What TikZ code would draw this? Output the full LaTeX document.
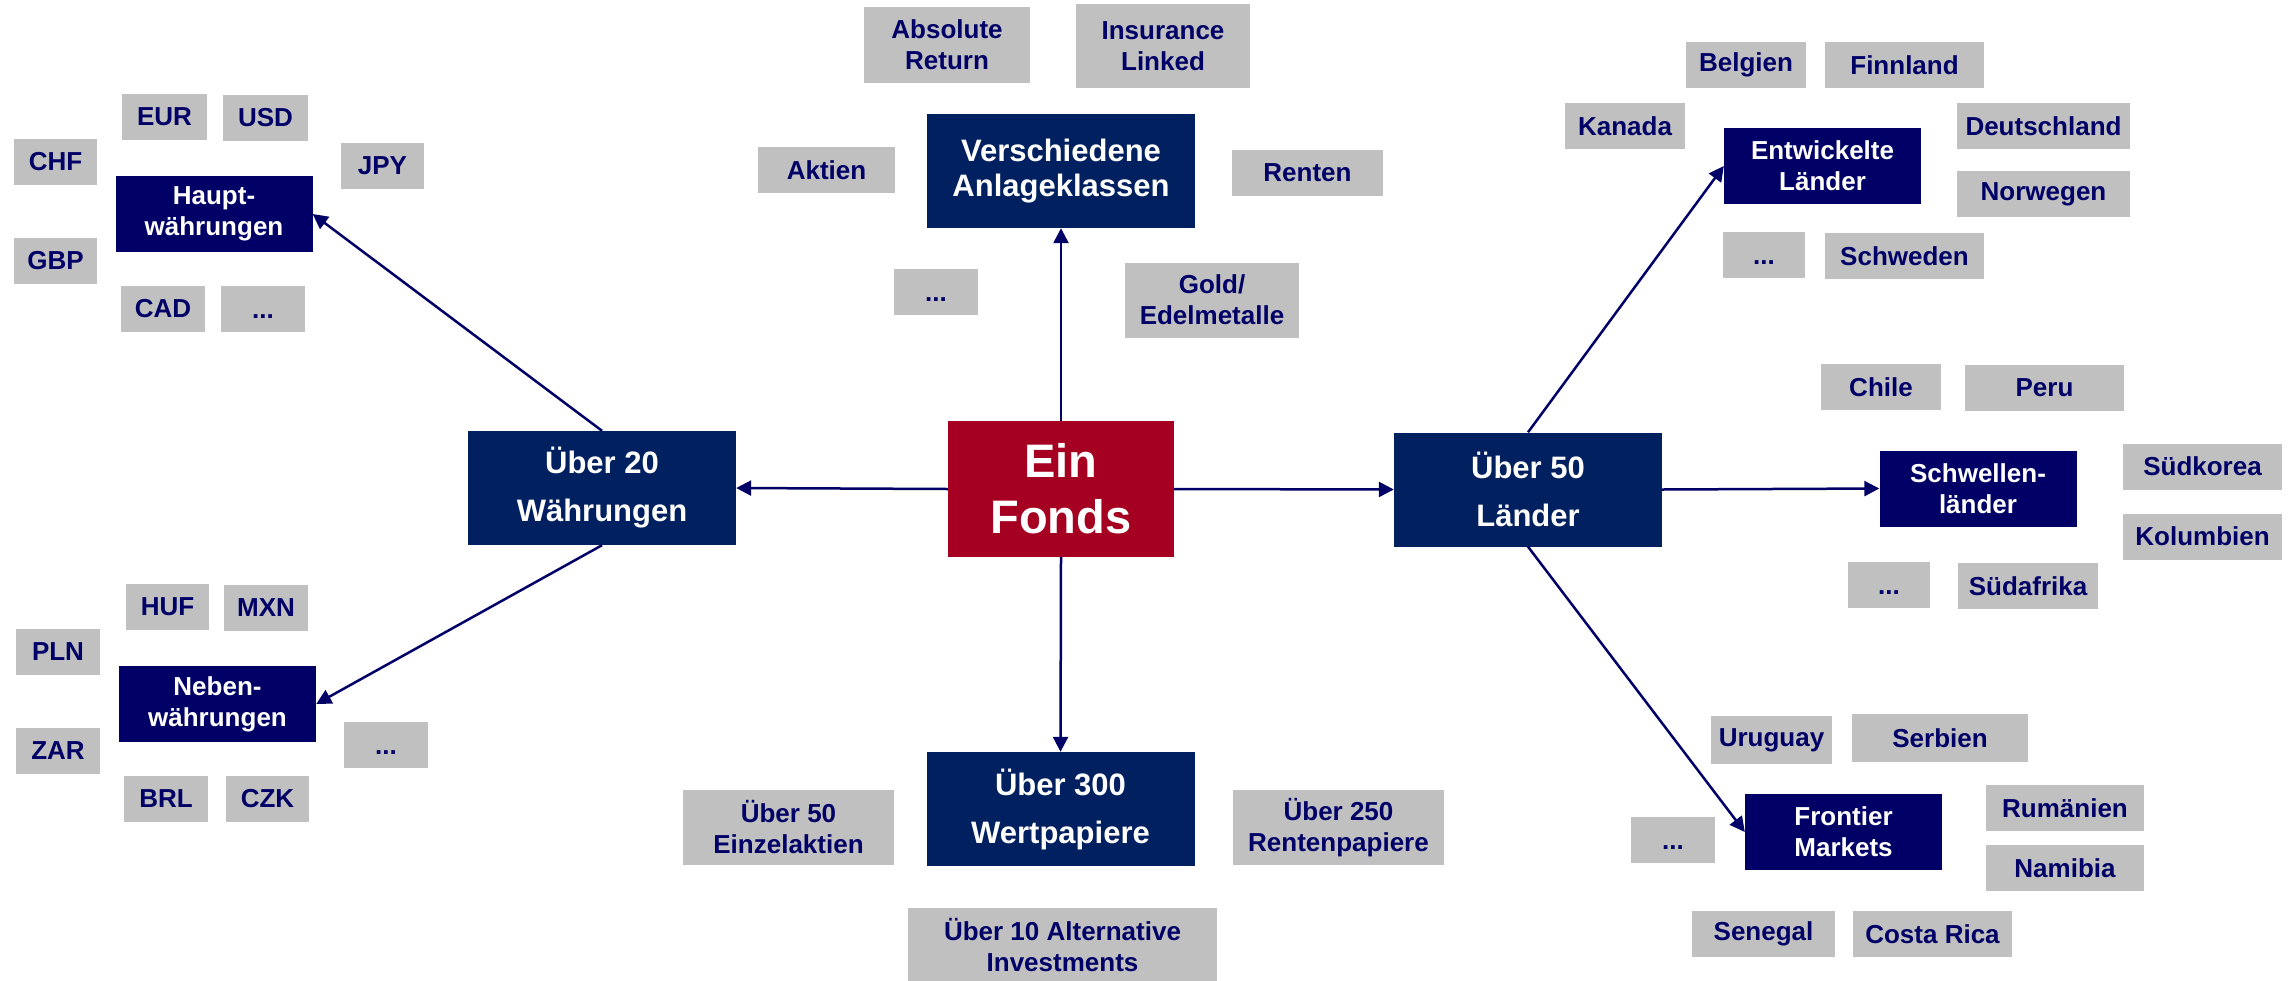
\documentclass[tikz,border=0pt]{standalone}
\usepackage{fontspec}
\setmainfont{Liberation Sans}
\usepackage{xcolor}
\usetikzlibrary{arrows.meta}
\definecolor{dunkelblau}{RGB}{0,32,96}
\definecolor{marine}{RGB}{0,0,102}
\definecolor{fondsrot}{RGB}{165,0,33}
\definecolor{hellgrau}{RGB}{192,192,192}

\begin{document}
\begin{tikzpicture}
  [x=1pt,y=-1pt,
   every node/.style={inner sep=0pt,align=center,font=\bfseries\fontsize{26}{31}\selectfont},
   fonds/.style={fill=fondsrot,text=white,minimum width=226pt,minimum height=136pt,font=\bfseries\fontsize{47}{56}\selectfont},
   gross/.style={fill=dunkelblau,text=white,minimum width=268pt,minimum height=114pt,font=\bfseries\fontsize{31}{48}\selectfont},
   klein/.style={fill=marine,text=white,minimum width=197pt,minimum height=76pt},
   grau/.style={fill=hellgrau,text=marine,minimum height=46pt,minimum width=#1},
   grau/.default=84pt,
   punkte/.style={grau=#1,text height=18.6pt,text depth=0pt},
   punkte/.default=84pt,
   pfeil/.style={draw=marine,line width=2.5pt,-{Triangle[length=15pt,width=15pt]}}]
  \useasboundingbox (0,0) rectangle (2290,980);

  \node[fonds] (fonds) at (1061,489) {Ein\\Fonds};
  \node[gross,font=\bfseries\fontsize{31}{35}\selectfont] (anlage) at (1061,171) {Verschiedene\\Anlageklassen};
  \node[gross] (papiere) at (1060.5,809) {Über 300\\Wertpapiere};
  \node[gross] (waehr) at (602,488) {Über 20\\Währungen};
  \node[gross] (laender) at (1528,489.5) {Über 50\\Länder};

  \node[klein] (haupt) at (214,214) {Haupt-\\währungen};
  \node[klein] (neben) at (217.5,704) {Neben-\\währungen};
  \node[klein] (entw) at (1822.5,166) {Entwickelte\\Länder};
  \node[klein] (schwellen) at (1978,488.5) {Schwellen-\\länder};
  \node[klein] (frontier) at (1843.5,832) {Frontier\\Markets};

  \node[grau=85pt] (eur) at (164.5,117) {EUR};
  \node[grau=85pt] (usd) at (265.5,118) {USD};
  \node[grau=83pt] (chf) at (55.5,162) {CHF};
  \node[grau=83pt] (jpy) at (382.5,166) {JPY};
  \node[grau=83pt] (gbp) at (55.5,261) {GBP};
  \node[grau] (cad) at (163,309) {CAD};
  \node[punkte] (hpunkte) at (263,309) {...};
  \node[grau=83pt] (huf) at (167.5,607) {HUF};
  \node[grau] (mxn) at (266,608) {MXN};
  \node[grau] (pln) at (58,652) {PLN};
  \node[grau] (zar) at (58,751) {ZAR};
  \node[punkte] (npunkte) at (386,745) {...};
  \node[grau] (brl) at (166,799) {BRL};
  \node[grau=83pt] (czk) at (267.5,799) {CZK};

  \node[grau=166pt,minimum height=76pt] (absolut) at (947,45) {Absolute\\Return};
  \node[grau=174pt,minimum height=84pt] (insurance) at (1163,46) {Insurance\\Linked};
  \node[grau=137pt] (aktien) at (826.5,170) {Aktien};
  \node[grau=151pt] (renten) at (1307.5,173) {Renten};
  \node[punkte] (apunkte) at (936,292) {...};
  \node[grau=174pt,minimum height=75pt] (gold) at (1212,300) {Gold/\\Edelmetalle};
  \node[grau=211pt,minimum height=75pt] (einzel) at (788.5,827.5) {Über 50\\Einzelaktien};
  \node[grau=211pt,minimum height=75pt] (rentenp) at (1338.5,827.5) {Über 250\\Rentenpapiere};
  \node[grau=309pt,minimum height=75pt] (altern) at (1062.5,945.5) {Über 10 Alternative\\Investments};

  \node[grau=120pt] (belgien) at (1746,65) {Belgien};
  \node[grau=159pt] (finnland) at (1904.5,65) {Finnland};
  \node[grau=120pt] (kanada) at (1625,126) {Kanada};
  \node[grau=173pt] (deutschland) at (2043.5,126) {Deutschland};
  \node[grau=173pt] (norwegen) at (2043.5,194) {Norwegen};
  \node[punkte=82pt] (epunkte) at (1764,255) {...};
  \node[grau=159pt] (schweden) at (1904.5,256) {Schweden};
  \node[grau=120pt] (chile) at (1881,387) {Chile};
  \node[grau=159pt] (peru) at (2044.5,388) {Peru};
  \node[grau=159pt] (suedkorea) at (2202.5,466.5) {Südkorea};
  \node[grau=159pt] (kolumbien) at (2202.5,536.5) {Kolumbien};
  \node[punkte=82pt] (spunkte) at (1889,585) {...};
  \node[grau=140pt] (suedafrika) at (2028,586) {Südafrika};
  \node[grau=121pt,minimum height=48pt] (uruguay) at (1771.5,740) {Uruguay};
  \node[grau=176pt,minimum height=48pt] (serbien) at (1940,738) {Serbien};
  \node[punkte] (fpunkte) at (1673,840) {...};
  \node[grau=158pt] (rumaenien) at (2065,808) {Rumänien};
  \node[grau=158pt] (namibia) at (2065,868) {Namibia};
  \node[grau=143pt] (senegal) at (1763.5,933.5) {Senegal};
  \node[grau=159pt] (costarica) at (1932.5,934) {Costa Rica};

  \foreach \from/\to in {fonds.north/anlage.south,fonds.south/papiere.north,fonds.west/waehr.east,
    fonds.east/laender.west,waehr.north/haupt.east,waehr.south/neben.east,
    laender.north/entw.west,laender.east/schwellen.west,laender.south/frontier.west}
    \draw[pfeil] (\from) -- (\to);

\end{tikzpicture}
\end{document}
